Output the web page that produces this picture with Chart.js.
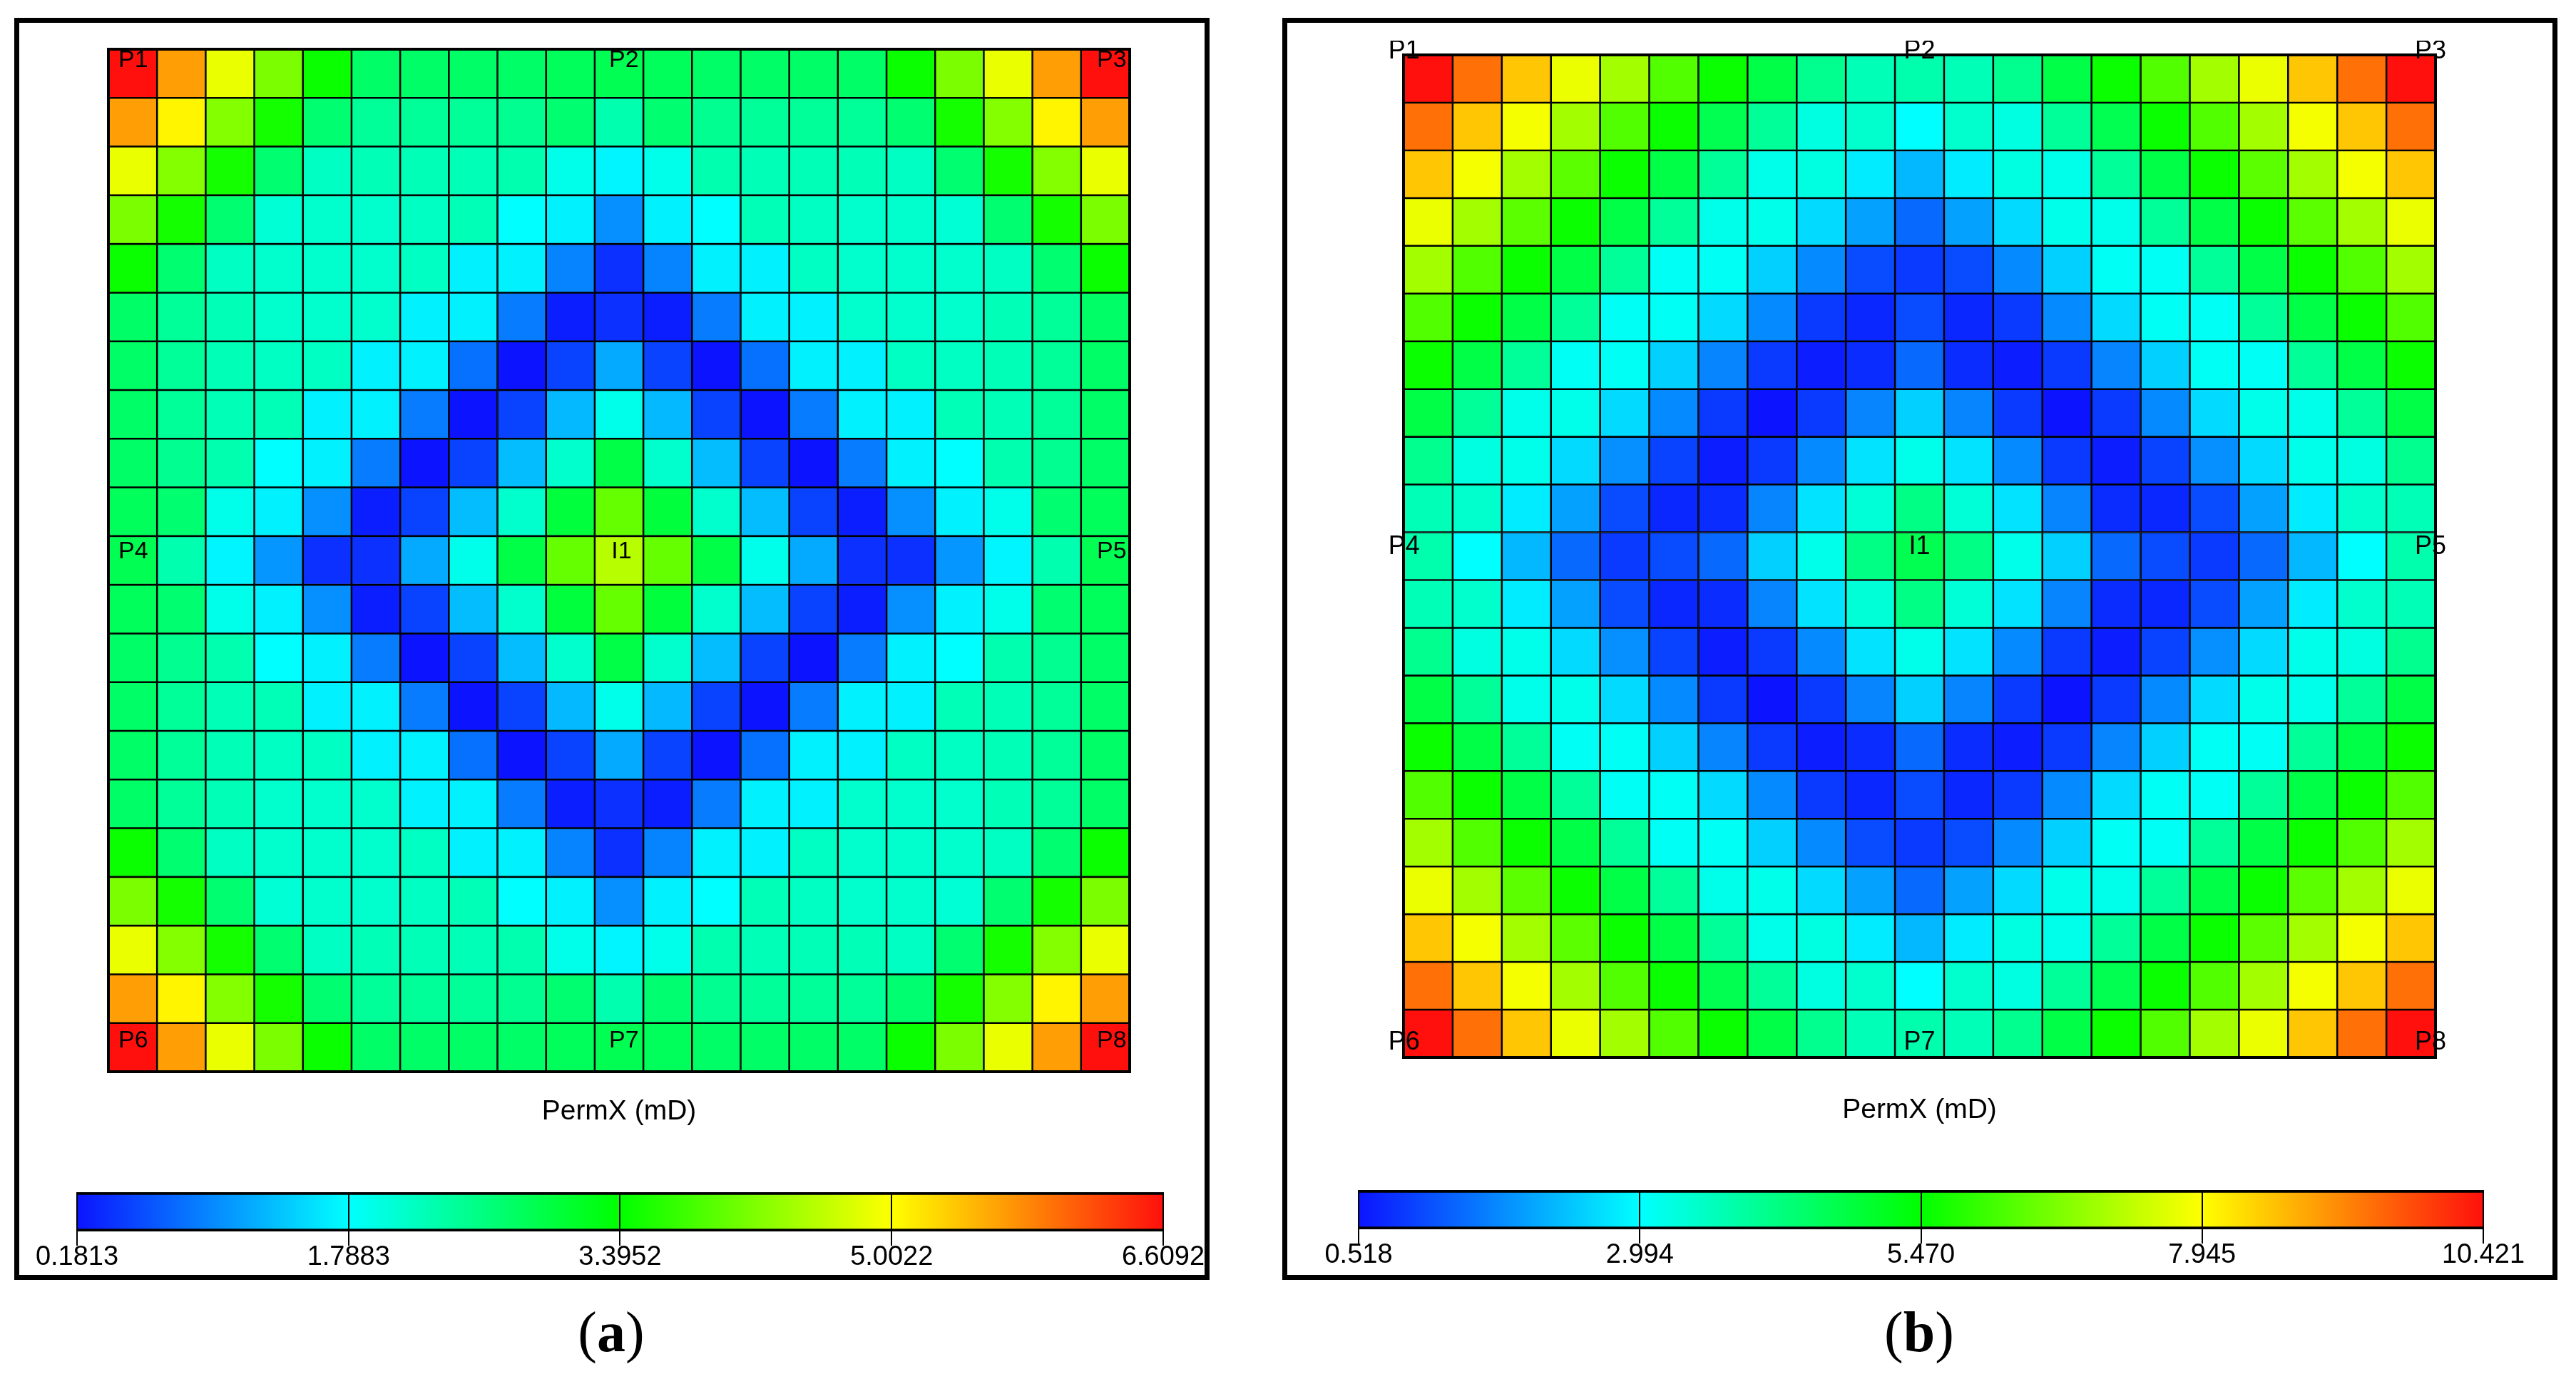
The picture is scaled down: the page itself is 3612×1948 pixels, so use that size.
<!DOCTYPE html>
<html><head><meta charset="utf-8">
<script src="https://cdn.jsdelivr.net/npm/chart.js@4"></script>
<style>
html,body{margin:0;padding:0;background:#fff;width:3612px;height:1948px;overflow:hidden}
canvas{position:absolute;display:block}
.frame{position:absolute;border:7px solid #000;box-sizing:border-box}
.cap{position:absolute;font-family:"Liberation Serif",serif;font-size:80px;line-height:90px;width:200px;text-align:center;color:#000}
</style></head><body>
<div class="frame" style="left:20px;top:25px;width:1676px;height:1770px"></div>
<div class="frame" style="left:1798px;top:25px;width:1788px;height:1770px"></div>
<canvas id="heatA" width="1552" height="1534" style="left:92px;top:49px"></canvas>
<canvas id="heatB" width="1567" height="1524" style="left:1908px;top:57px"></canvas>
<canvas id="barA" width="1683" height="127" style="left:28px;top:1660px"></canvas>
<canvas id="barB" width="1737" height="127" style="left:1825px;top:1657px"></canvas>
<div class="cap" style="left:757px;top:1823px">(<b>a</b>)</div>
<div class="cap" style="left:2591px;top:1823px">(<b>b</b>)</div>
<script>
const columns = ["1","2","3","4","5","6","7","8","9","10","11","12","13","14","15","16","17","18","19","20","21"];
const axisTitle = "PermX (mD)";

const permA = [
[6.61,5.65,4.87,4.17,3.46,2.75,2.75,2.75,2.75,2.82,2.88,2.82,2.75,2.75,2.75,2.75,3.46,4.17,4.87,5.65,6.61],
[5.65,5.07,4.23,3.52,2.69,2.43,2.43,2.43,2.49,2.69,2.30,2.69,2.49,2.43,2.43,2.43,2.69,3.52,4.23,5.07,5.65],
[4.87,4.23,3.52,2.69,2.17,2.24,2.24,2.24,2.30,1.92,1.72,1.92,2.30,2.24,2.24,2.24,2.17,2.69,3.52,4.23,4.87],
[4.17,3.52,2.69,2.05,2.11,2.11,2.17,2.24,1.79,1.69,1.02,1.69,1.79,2.24,2.17,2.11,2.11,2.05,2.69,3.52,4.17],
[3.46,2.69,2.17,2.11,2.11,2.11,2.17,1.69,1.69,0.95,0.37,0.95,1.69,1.69,2.17,2.11,2.11,2.11,2.17,2.69,3.46],
[2.75,2.43,2.24,2.11,2.11,2.11,1.69,1.69,0.89,0.25,0.37,0.25,0.89,1.69,1.69,2.11,2.11,2.11,2.24,2.43,2.75],
[2.75,2.43,2.24,2.17,2.17,1.69,1.69,0.82,0.18,0.50,1.21,0.50,0.18,0.82,1.69,1.69,2.17,2.17,2.24,2.43,2.75],
[2.75,2.43,2.24,2.24,1.69,1.69,0.89,0.18,0.50,1.31,1.92,1.31,0.50,0.18,0.89,1.69,1.69,2.24,2.24,2.43,2.75],
[2.75,2.49,2.30,1.79,1.69,0.89,0.18,0.50,1.34,2.11,2.95,2.11,1.34,0.50,0.18,0.89,1.69,1.79,2.30,2.49,2.75],
[2.82,2.69,1.92,1.69,1.02,0.25,0.50,1.34,2.11,3.01,4.04,3.01,2.11,1.34,0.50,0.25,1.02,1.69,1.92,2.69,2.82],
[2.88,2.30,1.72,1.08,0.37,0.37,1.21,1.92,2.95,4.04,4.55,4.04,2.95,1.92,1.21,0.37,0.37,1.08,1.72,2.30,2.88],
[2.82,2.69,1.92,1.69,1.02,0.25,0.50,1.34,2.11,3.01,4.04,3.01,2.11,1.34,0.50,0.25,1.02,1.69,1.92,2.69,2.82],
[2.75,2.49,2.30,1.79,1.69,0.89,0.18,0.50,1.34,2.11,2.95,2.11,1.34,0.50,0.18,0.89,1.69,1.79,2.30,2.49,2.75],
[2.75,2.43,2.24,2.24,1.69,1.69,0.89,0.18,0.50,1.31,1.92,1.31,0.50,0.18,0.89,1.69,1.69,2.24,2.24,2.43,2.75],
[2.75,2.43,2.24,2.17,2.17,1.69,1.69,0.82,0.18,0.50,1.21,0.50,0.18,0.82,1.69,1.69,2.17,2.17,2.24,2.43,2.75],
[2.75,2.43,2.24,2.11,2.11,2.11,1.69,1.69,0.89,0.25,0.37,0.25,0.89,1.69,1.69,2.11,2.11,2.11,2.24,2.43,2.75],
[3.46,2.69,2.17,2.11,2.11,2.11,2.17,1.69,1.69,0.95,0.37,0.95,1.69,1.69,2.17,2.11,2.11,2.11,2.17,2.69,3.46],
[4.17,3.52,2.69,2.05,2.11,2.11,2.17,2.24,1.79,1.69,1.02,1.69,1.79,2.24,2.17,2.11,2.11,2.05,2.69,3.52,4.17],
[4.87,4.23,3.52,2.69,2.17,2.24,2.24,2.24,2.30,1.92,1.72,1.92,2.30,2.24,2.24,2.24,2.17,2.69,3.52,4.23,4.87],
[5.65,5.07,4.23,3.52,2.69,2.43,2.43,2.43,2.49,2.69,2.30,2.69,2.49,2.43,2.43,2.43,2.69,3.52,4.23,5.07,5.65],
[6.61,5.65,4.87,4.17,3.46,2.75,2.75,2.75,2.75,2.82,2.88,2.82,2.75,2.75,2.75,2.75,3.46,4.17,4.87,5.65,6.61]
];

const permB = [
[10.42,9.43,8.54,7.75,7.05,6.26,5.57,4.78,4.08,3.69,3.79,3.69,4.08,4.78,5.57,6.26,7.05,7.75,8.54,9.43,10.42],
[9.43,8.54,7.85,7.05,6.26,5.57,4.68,3.98,3.29,3.49,2.99,3.49,3.29,3.98,4.68,5.57,6.26,7.05,7.85,8.54,9.43],
[8.54,7.85,7.05,6.36,5.57,4.78,3.98,3.19,3.29,2.80,2.25,2.80,3.29,3.19,3.98,4.78,5.57,6.36,7.05,7.85,8.54],
[7.75,7.05,6.36,5.57,4.78,3.98,3.19,3.19,2.60,2.00,1.41,2.00,2.60,3.19,3.19,3.98,4.78,5.57,6.36,7.05,7.75],
[7.05,6.26,5.57,4.78,3.98,3.09,3.09,2.50,1.76,1.11,0.91,1.11,1.76,2.50,3.09,3.09,3.98,4.78,5.57,6.26,7.05],
[6.26,5.57,4.78,3.98,3.09,3.09,2.60,1.76,0.91,0.72,1.11,0.72,0.91,1.76,2.60,3.09,3.09,3.98,4.78,5.57,6.26],
[5.57,4.78,3.98,3.09,3.09,2.50,1.71,0.91,0.62,0.77,1.41,0.77,0.62,0.91,1.71,2.50,3.09,3.09,3.98,4.78,5.57],
[4.78,3.98,3.19,3.19,2.60,1.76,0.91,0.52,0.91,1.71,2.50,1.71,0.91,0.52,0.91,1.76,2.60,3.19,3.19,3.98,4.78],
[4.08,3.29,3.19,2.60,1.81,1.01,0.62,0.91,1.76,2.70,3.19,2.70,1.76,0.91,0.62,1.01,1.81,2.60,3.19,3.29,4.08],
[3.69,3.49,2.80,2.00,1.11,0.72,0.77,1.71,2.70,3.39,4.18,3.39,2.70,1.71,0.77,0.72,1.11,2.00,2.80,3.49,3.69],
[3.79,2.99,2.25,1.41,0.91,1.11,1.41,2.50,3.19,4.18,4.68,4.18,3.19,2.50,1.41,1.11,0.91,1.41,2.25,2.99,3.79],
[3.69,3.49,2.80,2.00,1.11,0.72,0.77,1.71,2.70,3.39,4.18,3.39,2.70,1.71,0.77,0.72,1.11,2.00,2.80,3.49,3.69],
[4.08,3.29,3.19,2.60,1.81,1.01,0.62,0.91,1.76,2.70,3.19,2.70,1.76,0.91,0.62,1.01,1.81,2.60,3.19,3.29,4.08],
[4.78,3.98,3.19,3.19,2.60,1.76,0.91,0.52,0.91,1.71,2.50,1.71,0.91,0.52,0.91,1.76,2.60,3.19,3.19,3.98,4.78],
[5.57,4.78,3.98,3.09,3.09,2.50,1.71,0.91,0.62,0.77,1.41,0.77,0.62,0.91,1.71,2.50,3.09,3.09,3.98,4.78,5.57],
[6.26,5.57,4.78,3.98,3.09,3.09,2.60,1.76,0.91,0.72,1.11,0.72,0.91,1.76,2.60,3.09,3.09,3.98,4.78,5.57,6.26],
[7.05,6.26,5.57,4.78,3.98,3.09,3.09,2.50,1.76,1.11,0.91,1.11,1.76,2.50,3.09,3.09,3.98,4.78,5.57,6.26,7.05],
[7.75,7.05,6.36,5.57,4.78,3.98,3.19,3.19,2.60,2.00,1.41,2.00,2.60,3.19,3.19,3.98,4.78,5.57,6.36,7.05,7.75],
[8.54,7.85,7.05,6.36,5.57,4.78,3.98,3.19,3.29,2.80,2.25,2.80,3.29,3.19,3.98,4.78,5.57,6.36,7.05,7.85,8.54],
[9.43,8.54,7.85,7.05,6.26,5.57,4.68,3.98,3.29,3.49,2.99,3.49,3.29,3.98,4.68,5.57,6.26,7.05,7.85,8.54,9.43],
[10.42,9.43,8.54,7.75,7.05,6.26,5.57,4.78,4.08,3.69,3.79,3.69,4.08,4.78,5.57,6.26,7.05,7.75,8.54,9.43,10.42]
];

const ticksA = [0.1813,1.7883,3.3952,5.0022,6.6092];
const tickLabelsA = ["0.1813","1.7883","3.3952","5.0022","6.6092"];
const ticksB = [0.518,2.994,5.470,7.945,10.421];
const tickLabelsB = ["0.518","2.994","5.470","7.945","10.421"];

const wellNames = ["P1","P2","P3","P4","I1","P5","P6","P7","P8"];
const wellColsA = [0.01,10.1,20.13,0.01,10.05,20.13,0.01,10.1,20.13];
const wellRowsA = [0.23,0.23,0.23,10.32,10.32,10.32,20.37,20.37,20.37];
const wellColsB = [-0.49,10,20.4,-0.49,10,20.4,-0.49,10,20.4];
const wellRowsB = [-0.07,-0.07,-0.07,10.31,10.31,10.31,20.69,20.69,20.69];

const rampStops = [0,0.25,0.5,0.75,1];
const rampColors = [[12,20,255],[0,255,255],[0,255,0],[255,255,0],[255,16,12]];

function colorAt(v,min,max){
  const t=Math.max(0,Math.min(1,(v-min)/(max-min)));
  let i=0; while(i<rampStops.length-2 && t>rampStops[i+1]) i++;
  const f=(t-rampStops[i])/(rampStops[i+1]-rampStops[i]);
  const a=rampColors[i],b=rampColors[i+1];
  return `rgb(${a.map((c,k)=>Math.round(c+(b[k]-c)*f)).join(",")})`;
}

const wellPlugin={id:"wells",afterDatasetsDraw(chart,args,o){
  const {ctx,chartArea:a,scales:{x,y}}=chart;
  ctx.save();
  ctx.strokeStyle="#000";ctx.lineWidth=4;
  ctx.strokeRect(a.left,a.top,a.right-a.left,a.bottom-a.top);
  ctx.fillStyle="#000";ctx.textAlign="center";ctx.textBaseline="middle";
  ctx.font=o.size+'px "Liberation Sans"';
  wellNames.forEach((n,i)=>ctx.fillText(n,x.getPixelForValue(o.cols[i]),y.getPixelForValue(o.rows[i])));
  ctx.restore();
}};

function heat(id,rows,ticks,cols,wrows,size,pad,titlePad){
  const min=ticks[0],max=ticks[ticks.length-1];
  return new Chart(document.getElementById(id),{
    type:"bar",
    data:{labels:columns,datasets:rows.map((r,ri)=>({
      label:"row "+(ri+1),
      data:r.map(()=>[ri,ri+1]),
      perm:r,
      backgroundColor:r.map(v=>colorAt(v,min,max)),
      borderColor:"#000",borderWidth:1.6,borderSkipped:false,
      grouped:false,barPercentage:1,categoryPercentage:1
    }))},
    options:{responsive:false,animation:false,devicePixelRatio:1,
      layout:{padding:pad},
      plugins:{legend:{display:false},tooltip:{enabled:false},title:{display:false},
        wells:{cols,rows:wrows,size}},
      scales:{
        x:{type:"category",grid:{display:false,drawTicks:false},border:{display:false},ticks:{display:false},
           title:{display:true,text:axisTitle,color:"#000",font:{family:"Liberation Sans",size:39},padding:{top:titlePad,bottom:0}},
           afterFit(s){s.height=titlePad+47}},
        y:{type:"linear",display:false,reverse:true,min:0,max:21}
      }},
    plugins:[wellPlugin]
  });
}
heat("heatA",permA,ticksA,wellColsA,wellRowsA,34,{left:60,right:60,top:20,bottom:0},33);
heat("heatB",permB,ticksB,wellColsB,wellRowsB,36,{left:60,right:60,top:20,bottom:0},51);

function ramp(id,ticks,labels,border){
  const min=ticks[0],max=ticks[ticks.length-1];
  return new Chart(document.getElementById(id),{
    type:"bar",
    data:{labels:["PermX"],datasets:[{
      label:axisTitle,data:[[min,max]],
      backgroundColor(c){
        const a=c.chart.chartArea; if(!a) return "#000";
        const g=c.chart.ctx.createLinearGradient(a.left,0,a.right,0);
        rampStops.forEach((s,i)=>g.addColorStop(s,`rgb(${rampColors[i].join(",")})`));
        return g;
      },
      borderColor:"#000",borderWidth:{top:border,bottom:border,left:1,right:1},borderSkipped:false,
      barPercentage:1,categoryPercentage:1
    }]},
    options:{indexAxis:"y",responsive:false,animation:false,devicePixelRatio:1,
      layout:{padding:{left:80,right:80,top:12,bottom:0}},
      plugins:{legend:{display:false},tooltip:{enabled:false}},
      scales:{
        y:{display:false},
        x:{type:"linear",min,max,position:"bottom",
          afterBuildTicks(s){s.ticks=ticks.map(v=>({value:v}))},
          afterFit(s){s.height=60},
          border:{display:false},
          grid:{color:"#000",lineWidth:2,tickLength:20,z:1,drawOnChartArea:true},
          ticks:{color:"#000",autoSkip:false,maxRotation:0,padding:-2,
            font:{family:"Liberation Sans",size:38,lineHeight:1},
            callback(v,i){return labels[i]}}
        }
      }}
  });
}
ramp("barA",ticksA,tickLabelsA,4);
ramp("barB",ticksB,tickLabelsB,4);
</script>
</body></html>
